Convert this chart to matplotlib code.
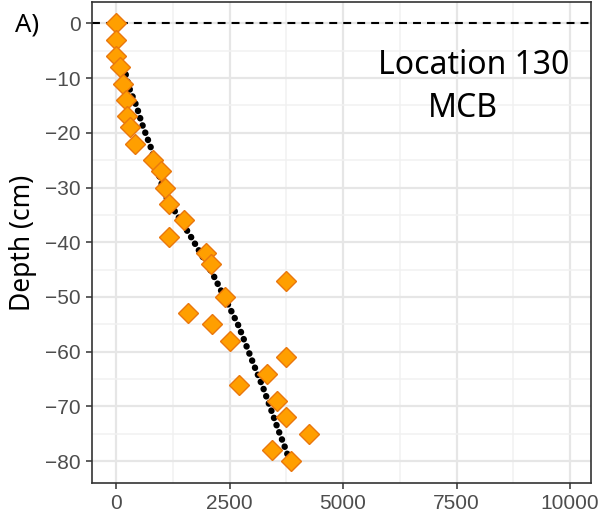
import matplotlib
matplotlib.use("Agg")
import matplotlib.pyplot as plt
from matplotlib.ticker import MultipleLocator

depth = [0, -3, -6, -8, -11, -14, -17, -19, -22, -25, -27, -30, -33, -36, -39,
         -42, -44, -47, -50, -53, -55, -58, -61, -64, -66, -69, -72, -75, -78, -80]
value = [0, 0, 0, 90, 160, 220, 240, 310, 410, 820, 980, 1080, 1175, 1490, 1175,
         1980, 2100, 3745, 2400, 1590, 2105, 2510, 3750, 3320, 2715, 3540, 3745, 4255, 3430, 3850]

# smooth fit through the profile (dotted line)
fit_depth = [-8, -9.3, -12.2, -15.2, -18.2, -22.6, -27, -31.4, -34.4, -39, -46, -52.1,
             -55.3, -62.2, -66.7, -71.3, -74, -76.8, -80]
fit_value = [160, 213, 308, 455, 565, 763, 920, 1079, 1300, 1650, 2143, 2511,
             2700, 3025, 3245, 3445, 3560, 3690, 3830]

ORANGE, EDGE = "#FF9F00", "#E9770E"
GRID = "#E6E6E6"

fig = plt.figure(figsize=(6.13, 5.19), dpi=100)
ax = fig.add_axes([0.150, 0.0694, 0.814, 0.9266])

ax.axhline(0, color="black", linestyle=(0, (3.8, 2.9)), linewidth=1.5, zorder=2)
ax.plot(fit_value, fit_depth, color="black", linestyle=(0, (0.05, 1.15)),
        dash_capstyle="round", linewidth=4.6, zorder=3)
ax.plot(value, depth, linestyle="none", marker="D", markersize=10.2,
        markerfacecolor=ORANGE, markeredgecolor=EDGE, markeredgewidth=1.0, zorder=4)

ax.set_xlim(-530, 10460)
ax.set_ylim(-84.0, 3.9)
ax.xaxis.set_major_locator(MultipleLocator(2500))
ax.xaxis.set_minor_locator(MultipleLocator(1250))
ax.yaxis.set_major_locator(MultipleLocator(10))
ax.yaxis.set_minor_locator(MultipleLocator(5))
ax.grid(which="major", color=GRID, linewidth=1.6, zorder=0)
ax.grid(which="minor", color="#F1F1F1", linewidth=1.1, zorder=0)
ax.set_axisbelow(True)
ax.tick_params(which="minor", length=0)
ax.tick_params(which="major", length=4.5, width=1.1, color="#333333",
               labelsize=15, labelcolor="#4D4D4D", pad=3.5)
for lab in ax.get_xticklabels() + ax.get_yticklabels():
    lab.set_family("Liberation Sans")
for s in ax.spines.values():
    s.set_color("#333333")
    s.set_linewidth(1.2)

ax.set_ylabel("Depth (cm)", fontsize=19, family="Noto Sans", labelpad=6)

ax.text(7874, -7.7, "Location 130", fontsize=23, family="Noto Sans",
        ha="center", va="center")
ax.text(7632, -15.6, "MCB", fontsize=23, family="Noto Sans",
        ha="center", va="center")
fig.text(15 / 613, 1 - 25 / 519, "A)", fontsize=18.5, family="Noto Sans",
         ha="left", va="center")

fig.savefig("out.png", dpi=100)
